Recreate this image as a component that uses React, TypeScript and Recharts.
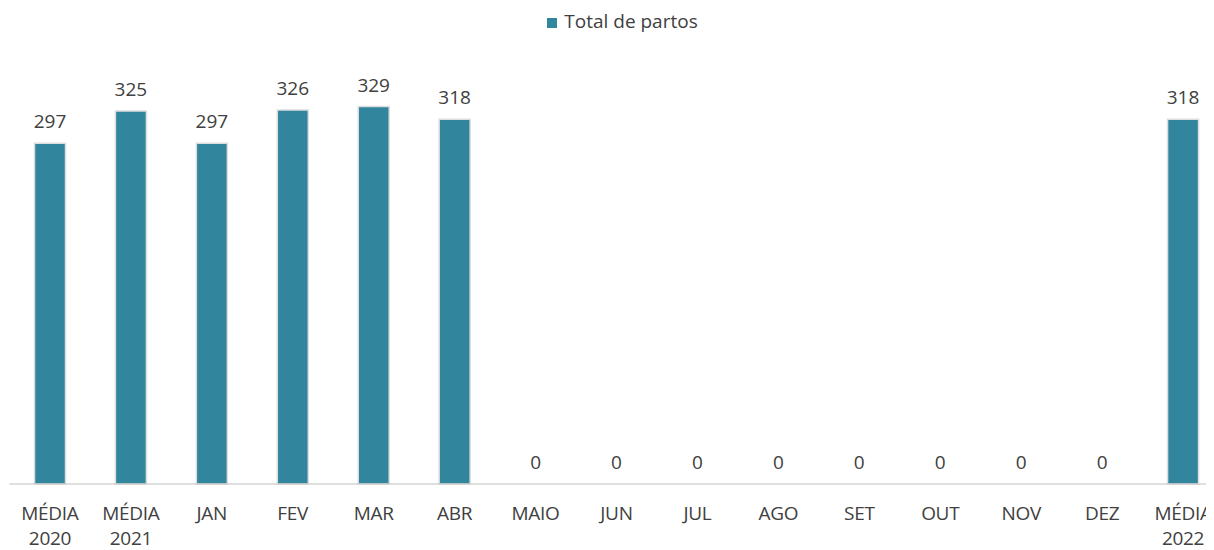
import { ComposedChart, Bar, Line, XAxis, YAxis, Legend, LabelList } from 'recharts'

const categories = [
  'MÉDIA\n2020',
  'MÉDIA\n2021',
  'JAN',
  'FEV',
  'MAR',
  'ABR',
  'MAIO',
  'JUN',
  'JUL',
  'AGO',
  'SET',
  'OUT',
  'NOV',
  'DEZ',
  'MÉDIA\n2022'
]
const totalPartos = [297, 325, 297, 326, 329, 318, 0, 0, 0, 0, 0, 0, 0, 0, 318]

const data = categories.map((name, i) => ({ name, total: totalPartos[i] }))

const FONT = '"Open Sans", sans-serif'
const TEXT = '#404040'
const BAR = '#31859C'

function CategoryTick(props: any) {
  const { x, y, payload } = props
  const lines = String(payload.value).split('\n')
  return (
    <text
      x={x}
      y={y + 28}
      textAnchor="middle"
      fill={TEXT}
      fontSize={19}
      fontFamily={FONT}
      letterSpacing={-0.3}
    >
      {lines.map((l, i) => (
        <tspan key={i} x={x} dy={i === 0 ? 0 : 25}>
          {l}
        </tspan>
      ))}
    </text>
  )
}

export default function App() {
  return (
    <div style={{ width: 1206, height: 542, overflow: 'hidden' }}>
      <ComposedChart
        width={1228}
        height={542}
        data={data}
        margin={{ top: 14, right: 12.5, left: 1.5, bottom: 0 }}
      >
        <Legend
          verticalAlign="top"
          align="center"
          height={26}
          iconType="square"
          iconSize={10}
          wrapperStyle={{ top: 0, left: 12.5, fontFamily: FONT, fontSize: 19 }}
          formatter={(v) => <span style={{ color: TEXT, marginLeft: 3 }}>{v}</span>}
        />
        <XAxis
          dataKey="name"
          interval={0}
          tickLine={false}
          axisLine={{ stroke: '#bfbfbf' }}
          height={66}
          tick={<CategoryTick />}
        />
        <YAxis hide domain={[0, 380]} />
        <Bar
          dataKey="total"
          name="Total de partos"
          fill={BAR}
          stroke="#dedede"
          strokeWidth={1.5}
          barSize={31}
          isAnimationActive={false}
        />
        {/* invisible line only carries the value labels, so zeros get one too */}
        <Line
          dataKey="total"
          stroke="none"
          dot={false}
          activeDot={false}
          legendType="none"
          isAnimationActive={false}
        >
          <LabelList
            dataKey="total"
            position="top"
            offset={15}
            fill={TEXT}
            fontSize={19}
            fontFamily={FONT}
          />
        </Line>
      </ComposedChart>
    </div>
  )
}
